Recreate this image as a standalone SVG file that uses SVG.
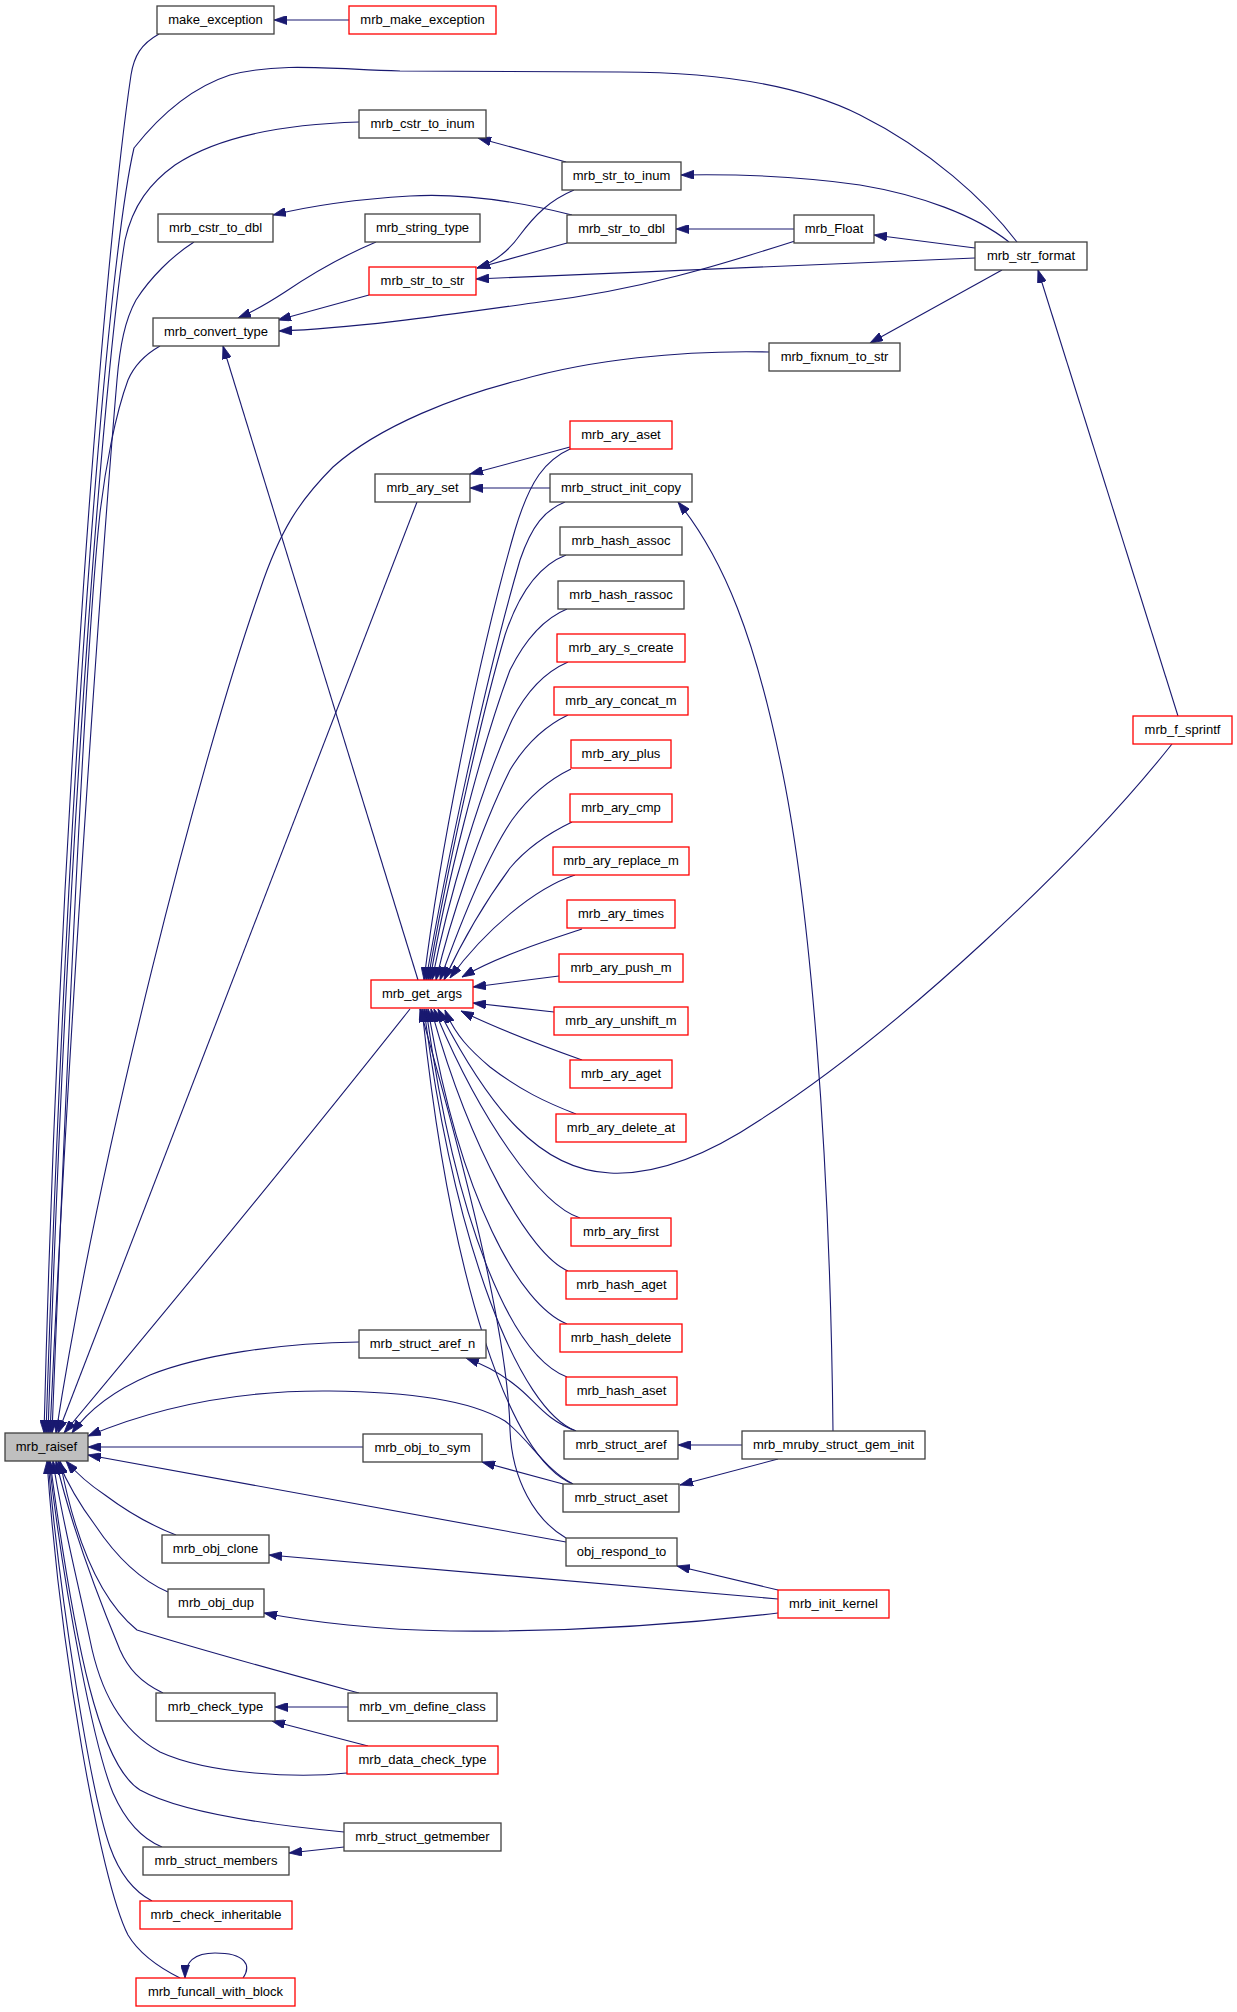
<svg xmlns="http://www.w3.org/2000/svg" width="1237" height="2012" viewBox="0 0 1237 2012">
<style>
.n rect{fill:#fff;stroke:#404040;stroke-width:1.3}
.n.r rect{stroke:#ff0000}
.n.g rect{fill:#bfbfbf}
.n text{font-family:"Liberation Sans",Arial,sans-serif;font-size:13px;text-anchor:middle;fill:#000}
#edges path{fill:none;stroke:#191970;stroke-width:1.1;marker-end:url(#a)}
</style>
<defs>
<marker id="a" markerUnits="userSpaceOnUse" viewBox="0 0 13 9" refX="13" refY="4.5" markerWidth="13" markerHeight="9" orient="auto"><path d="M0,0L13,4.5L0,9z" fill="#191970" stroke="#191970" stroke-width="0.8"/></marker>
</defs>
<rect width="1237" height="2012" fill="#fff"/>
<g id="edges">
<path d="M349,20 L274,20"/>
<path d="M159,34 C141,44 134,56 131,75 C105,250 60,800 44,1433"/>
<path d="M1017,242 C985,200 930,150 860,115 C790,80 700,72 620,72 L400,71 C330,69 280,62 230,75 C190,88 160,115 134,148 C110,250 70,700 46,1433"/>
<path d="M359,122 C290,124 220,135 175,165 C150,183 133,205 125,240 C110,330 70,750 48,1433"/>
<path d="M566,162 L478,138"/>
<path d="M1009,242 C975,215 920,195 860,185 C800,176 740,174 681,175"/>
<path d="M572,215 C520,202 460,193 410,196 C360,199 310,206 273,215"/>
<path d="M194,242 C172,256 150,278 136,300 C125,320 120,345 117,380 C105,520 70,1000 50,1433"/>
<path d="M376,242 C345,255 310,275 285,292 C265,305 250,313 238,318"/>
<path d="M369,295 L278,320"/>
<path d="M574,190 C550,200 535,215 520,235 C508,252 495,262 477,268"/>
<path d="M567,243 L477,268"/>
<path d="M975,258 L476,279"/>
<path d="M794,229 L676,229"/>
<path d="M975,248 L874,235"/>
<path d="M795,241 C720,265 640,290 540,302 C460,313 360,328 279,331"/>
<path d="M160,346 C146,354 134,366 128,380 C115,415 105,470 100,513 C85,650 65,1100 52,1433"/>
<path d="M769,352 C680,350 590,360 520,380 C460,395 380,425 333,467 C300,500 280,530 260,590 C200,760 100,1150 56,1433"/>
<path d="M1002,270 L870,343"/>
<path d="M1178,716 L1038,270"/>
<path d="M1172,744 C1080,860 900,1030 760,1120 C700,1160 650,1175 610,1173 C540,1170 490,1110 438,1009"/>
<path d="M418,980 L223,346"/>
<path d="M417,502 L58,1433"/>
<path d="M570,447 L470,474"/>
<path d="M550,488 L470,488"/>
<path d="M572,448 C545,460 530,480 515,530 C480,650 440,850 424,980"/>
<path d="M565,502 C545,510 532,525 520,560 C485,680 445,870 426,980"/>
<path d="M566,555 C540,565 520,590 505,635 C480,720 445,880 428,980"/>
<path d="M567,609 C545,618 525,640 510,670 C480,750 445,890 430,980"/>
<path d="M568,662 C545,672 527,690 512,720 C480,790 448,900 432,980"/>
<path d="M568,715 C545,726 525,745 510,770 C480,830 450,920 436,980"/>
<path d="M571,769 C548,780 528,798 512,820 C485,860 458,930 440,980"/>
<path d="M572,822 C545,835 525,850 510,868 C490,895 465,935 444,980"/>
<path d="M575,875 C535,888 485,930 450,978"/>
<path d="M582,929 C555,938 500,955 462,977"/>
<path d="M559,976 L473,987"/>
<path d="M554,1012 L473,1003"/>
<path d="M582,1060 C540,1045 500,1030 461,1011"/>
<path d="M576,1114 C545,1102 520,1090 490,1067 C470,1050 455,1035 445,1010"/>
<path d="M580,1218 C540,1205 480,1120 434,1009"/>
<path d="M568,1271 C530,1255 470,1150 431,1009"/>
<path d="M567,1324 C520,1305 460,1200 428,1009"/>
<path d="M567,1377 C510,1355 455,1220 426,1009"/>
<path d="M576,1431 C520,1410 455,1250 424,1009"/>
<path d="M573,1484 C510,1460 450,1280 422,1009"/>
<path d="M566,1538 C535,1520 512,1480 510,1430 C508,1330 460,1150 420,1009"/>
<path d="M410,1009 C330,1110 200,1270 64,1433"/>
<path d="M833,1431 C830,1150 810,900 780,760 C755,640 725,560 678,502"/>
<path d="M742,1445 L678,1445"/>
<path d="M778,1459 L680,1485"/>
<path d="M576,1431 C545,1420 535,1400 515,1385 C500,1373 485,1365 466,1358"/>
<path d="M359,1342 C280,1343 200,1355 150,1375 C115,1390 90,1408 72,1433"/>
<path d="M573,1484 C545,1470 530,1440 505,1421 C470,1400 410,1392 330,1391 C230,1390 150,1410 88,1436"/>
<path d="M363,1447 L88,1447"/>
<path d="M563,1484 L482,1462"/>
<path d="M566,1542 L88,1455"/>
<path d="M778,1590 L677,1566"/>
<path d="M778,1599 L269,1555"/>
<path d="M778,1613 C650,1628 550,1632 450,1631 C380,1630 310,1622 264,1613"/>
<path d="M176,1535 C150,1525 125,1510 105,1495 C90,1485 78,1475 66,1461"/>
<path d="M168,1592 C140,1580 115,1555 95,1525 C80,1505 68,1485 58,1461"/>
<path d="M359,1693 C300,1677 200,1650 137,1630 C100,1600 75,1540 60,1461"/>
<path d="M163,1693 C140,1682 128,1668 120,1650 C95,1590 70,1520 56,1461"/>
<path d="M348,1707 L275,1707"/>
<path d="M368,1746 L272,1721"/>
<path d="M347,1773 C300,1778 210,1775 160,1752 C120,1730 100,1690 90,1640 C75,1570 60,1510 53,1461"/>
<path d="M344,1832 C270,1825 180,1812 140,1790 C100,1765 75,1650 50,1461"/>
<path d="M344,1847 L289,1853"/>
<path d="M162,1847 C140,1838 125,1820 113,1793 C95,1750 65,1600 49,1461"/>
<path d="M152,1901 C135,1892 120,1875 110,1847 C90,1790 60,1600 48,1461"/>
<path d="M180,1978 C160,1968 140,1955 128,1935 C100,1880 60,1650 47,1461"/>
<path d="M243,1978 C252,1965 245,1953 215,1953 C195,1953 185,1962 185,1978"/>
</g>
<g id="n_mrb_raisef" class="n g"><rect x="5" y="1433" width="83" height="28"/><text x="46.5" y="1451">mrb_raisef</text></g>
<g id="n_make_exception" class="n"><rect x="157" y="6" width="117" height="28"/><text x="215.5" y="24">make_exception</text></g>
<g id="n_mrb_make_exception" class="n r"><rect x="349" y="6" width="147" height="28"/><text x="422.5" y="24">mrb_make_exception</text></g>
<g id="n_mrb_cstr_to_inum" class="n"><rect x="359" y="110" width="127" height="28"/><text x="422.5" y="128">mrb_cstr_to_inum</text></g>
<g id="n_mrb_str_to_inum" class="n"><rect x="562" y="162" width="119" height="28"/><text x="621.5" y="180">mrb_str_to_inum</text></g>
<g id="n_mrb_cstr_to_dbl" class="n"><rect x="158" y="214" width="115" height="28"/><text x="215.5" y="232">mrb_cstr_to_dbl</text></g>
<g id="n_mrb_string_type" class="n"><rect x="365" y="214" width="115" height="28"/><text x="422.5" y="232">mrb_string_type</text></g>
<g id="n_mrb_str_to_dbl" class="n"><rect x="567" y="215" width="109" height="28"/><text x="621.5" y="233">mrb_str_to_dbl</text></g>
<g id="n_mrb_Float" class="n"><rect x="794" y="215" width="80" height="28"/><text x="834" y="233">mrb_Float</text></g>
<g id="n_mrb_str_format" class="n"><rect x="975" y="242" width="112" height="28"/><text x="1031" y="260">mrb_str_format</text></g>
<g id="n_mrb_str_to_str" class="n r"><rect x="369" y="267" width="107" height="28"/><text x="422.5" y="285">mrb_str_to_str</text></g>
<g id="n_mrb_convert_type" class="n"><rect x="153" y="318" width="126" height="28"/><text x="216" y="336">mrb_convert_type</text></g>
<g id="n_mrb_fixnum_to_str" class="n"><rect x="769" y="343" width="131" height="28"/><text x="834.5" y="361">mrb_fixnum_to_str</text></g>
<g id="n_mrb_ary_aset" class="n r"><rect x="570" y="421" width="102" height="28"/><text x="621" y="439">mrb_ary_aset</text></g>
<g id="n_mrb_ary_set" class="n"><rect x="375" y="474" width="95" height="28"/><text x="422.5" y="492">mrb_ary_set</text></g>
<g id="n_mrb_struct_init_copy" class="n"><rect x="550" y="474" width="142" height="28"/><text x="621" y="492">mrb_struct_init_copy</text></g>
<g id="n_mrb_hash_assoc" class="n"><rect x="560" y="527" width="122" height="28"/><text x="621" y="545">mrb_hash_assoc</text></g>
<g id="n_mrb_hash_rassoc" class="n"><rect x="558" y="581" width="126" height="28"/><text x="621" y="599">mrb_hash_rassoc</text></g>
<g id="n_mrb_ary_s_create" class="n r"><rect x="557" y="634" width="128" height="28"/><text x="621" y="652">mrb_ary_s_create</text></g>
<g id="n_mrb_ary_concat_m" class="n r"><rect x="554" y="687" width="134" height="28"/><text x="621" y="705">mrb_ary_concat_m</text></g>
<g id="n_mrb_ary_plus" class="n r"><rect x="571" y="740" width="100" height="28"/><text x="621" y="758">mrb_ary_plus</text></g>
<g id="n_mrb_ary_cmp" class="n r"><rect x="570" y="794" width="102" height="28"/><text x="621" y="812">mrb_ary_cmp</text></g>
<g id="n_mrb_ary_replace_m" class="n r"><rect x="553" y="847" width="136" height="28"/><text x="621" y="865">mrb_ary_replace_m</text></g>
<g id="n_mrb_ary_times" class="n r"><rect x="567" y="900" width="108" height="28"/><text x="621" y="918">mrb_ary_times</text></g>
<g id="n_mrb_ary_push_m" class="n r"><rect x="559" y="954" width="124" height="28"/><text x="621" y="972">mrb_ary_push_m</text></g>
<g id="n_mrb_get_args" class="n r"><rect x="371" y="980" width="102" height="28"/><text x="422" y="998">mrb_get_args</text></g>
<g id="n_mrb_ary_unshift_m" class="n r"><rect x="554" y="1007" width="134" height="28"/><text x="621" y="1025">mrb_ary_unshift_m</text></g>
<g id="n_mrb_ary_aget" class="n r"><rect x="570" y="1060" width="102" height="28"/><text x="621" y="1078">mrb_ary_aget</text></g>
<g id="n_mrb_ary_delete_at" class="n r"><rect x="556" y="1114" width="130" height="28"/><text x="621" y="1132">mrb_ary_delete_at</text></g>
<g id="n_mrb_f_sprintf" class="n r"><rect x="1133" y="716" width="99" height="28"/><text x="1182.5" y="734">mrb_f_sprintf</text></g>
<g id="n_mrb_ary_first" class="n r"><rect x="571" y="1218" width="100" height="28"/><text x="621" y="1236">mrb_ary_first</text></g>
<g id="n_mrb_hash_aget" class="n r"><rect x="566" y="1271" width="111" height="28"/><text x="621.5" y="1289">mrb_hash_aget</text></g>
<g id="n_mrb_hash_delete" class="n r"><rect x="560" y="1324" width="122" height="28"/><text x="621" y="1342">mrb_hash_delete</text></g>
<g id="n_mrb_struct_aref_n" class="n"><rect x="359" y="1330" width="127" height="28"/><text x="422.5" y="1348">mrb_struct_aref_n</text></g>
<g id="n_mrb_hash_aset" class="n r"><rect x="566" y="1377" width="111" height="28"/><text x="621.5" y="1395">mrb_hash_aset</text></g>
<g id="n_mrb_struct_aref" class="n"><rect x="564" y="1431" width="114" height="28"/><text x="621" y="1449">mrb_struct_aref</text></g>
<g id="n_mrb_mruby_struct_gem_init" class="n"><rect x="742" y="1431" width="183" height="28"/><text x="833.5" y="1449">mrb_mruby_struct_gem_init</text></g>
<g id="n_mrb_obj_to_sym" class="n"><rect x="363" y="1434" width="119" height="28"/><text x="422.5" y="1452">mrb_obj_to_sym</text></g>
<g id="n_mrb_struct_aset" class="n"><rect x="563" y="1484" width="116" height="28"/><text x="621" y="1502">mrb_struct_aset</text></g>
<g id="n_mrb_obj_clone" class="n"><rect x="162" y="1535" width="107" height="28"/><text x="215.5" y="1553">mrb_obj_clone</text></g>
<g id="n_obj_respond_to" class="n"><rect x="566" y="1538" width="111" height="28"/><text x="621.5" y="1556">obj_respond_to</text></g>
<g id="n_mrb_obj_dup" class="n"><rect x="168" y="1589" width="96" height="28"/><text x="216" y="1607">mrb_obj_dup</text></g>
<g id="n_mrb_init_kernel" class="n r"><rect x="778" y="1590" width="111" height="28"/><text x="833.5" y="1608">mrb_init_kernel</text></g>
<g id="n_mrb_check_type" class="n"><rect x="156" y="1693" width="119" height="28"/><text x="215.5" y="1711">mrb_check_type</text></g>
<g id="n_mrb_vm_define_class" class="n"><rect x="348" y="1693" width="149" height="28"/><text x="422.5" y="1711">mrb_vm_define_class</text></g>
<g id="n_mrb_data_check_type" class="n r"><rect x="347" y="1746" width="151" height="28"/><text x="422.5" y="1764">mrb_data_check_type</text></g>
<g id="n_mrb_struct_getmember" class="n"><rect x="344" y="1823" width="157" height="28"/><text x="422.5" y="1841">mrb_struct_getmember</text></g>
<g id="n_mrb_struct_members" class="n"><rect x="143" y="1847" width="146" height="28"/><text x="216" y="1865">mrb_struct_members</text></g>
<g id="n_mrb_check_inheritable" class="n r"><rect x="140" y="1901" width="152" height="28"/><text x="216" y="1919">mrb_check_inheritable</text></g>
<g id="n_mrb_funcall_with_block" class="n r"><rect x="136" y="1978" width="159" height="28"/><text x="215.5" y="1996">mrb_funcall_with_block</text></g>
</svg>
